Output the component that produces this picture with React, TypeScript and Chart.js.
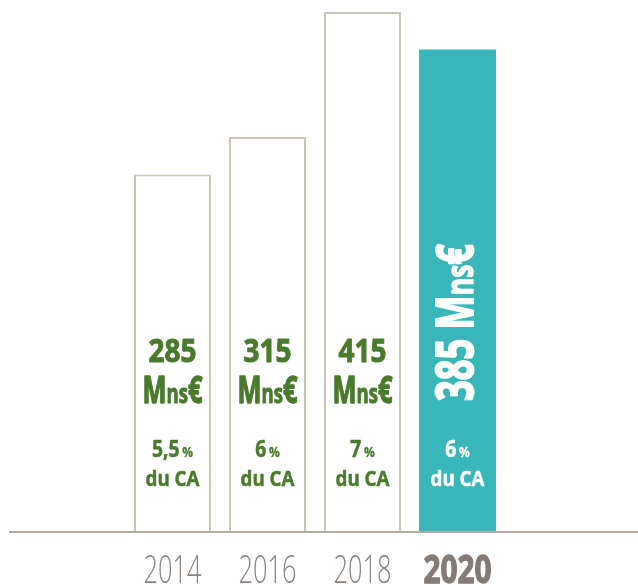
import React, { useEffect, useRef } from 'react';
import { Chart, registerables } from 'chart.js';

Chart.register(...registerables);

// ---- data ----
const years = ['2014', '2016', '2018', '2020'];
const amounts = [285, 315, 415, 385];
const shares = ['5,5', '6', '7', '6'];
const highlightIndex = 3;
const unitMain = 'M';
const unitSub = 'ns';
const unitEnd = '€';
const shareSuffix = '%';
const shareLabel = 'du CA';

// ---- styles ----
const FONT = '"Open Sans", "Liberation Sans", "DejaVu Sans", sans-serif';
const GREEN = '#4a7b2c';
const TEAL = '#39b6b9';
const BORDER = '#cbc5b6';
const AXIS = '#b1aba3';
const YEAR = '#8c837e';
const YEAR_BOLD = '#857b76';

type Seg = { text: string; size: number; weight: number };

function segWidth(ctx: CanvasRenderingContext2D, segs: Seg[]) {
  let w = 0;
  for (const s of segs) {
    ctx.font = `${s.weight} ${s.size}px ${FONT}`;
    w += ctx.measureText(s.text).width;
  }
  return w;
}

function drawSegs(
  ctx: CanvasRenderingContext2D,
  segs: Seg[],
  sx: number,
  color: string,
  align: 'center' | 'left',
  stroke = 0
) {
  const w = segWidth(ctx, segs);
  ctx.save();
  ctx.scale(sx, 1);
  ctx.fillStyle = color;
  ctx.strokeStyle = color;
  ctx.lineJoin = 'round';
  ctx.textAlign = 'left';
  ctx.textBaseline = 'alphabetic';
  let x = align === 'center' ? -w / 2 : 0;
  for (const s of segs) {
    ctx.font = `${s.weight} ${s.size}px ${FONT}`;
    ctx.fillText(s.text, x, 0);
    if (stroke > 0) {
      ctx.lineWidth = stroke * (s.size / 30);
      ctx.strokeText(s.text, x, 0);
    }
    x += ctx.measureText(s.text).width;
  }
  ctx.restore();
}

const valueSegs = (v: string): Seg[] => [{ text: v, size: 33, weight: 700 }];
const unitSegs = (k = 1): Seg[] => [
  { text: unitMain, size: 37 * k, weight: 700 },
  { text: unitSub, size: 27 * k, weight: 700 },
  { text: unitEnd, size: 37 * k, weight: 700 },
];
const shareSegs = (s: string): Seg[] => [
  { text: s, size: 22.5, weight: 700 },
  { text: ' ', size: 12, weight: 700 },
  { text: shareSuffix, size: 14, weight: 700 },
];
const labelSegs = (): Seg[] => [{ text: shareLabel, size: 21.5, weight: 700 }];
const yearSegs = (y: string, bold: boolean): Seg[] => [
  { text: y, size: 39, weight: bold ? 700 : 300 },
];

const labelsPlugin = {
  id: 'customLabels',
  afterDatasetsDraw(chart: any) {
    const ctx: CanvasRenderingContext2D = chart.ctx;
    const xs = chart.scales.x;
    const ys = chart.scales.y;
    const base = ys.getPixelForValue(0);

    // axis line
    ctx.save();
    ctx.fillStyle = AXIS;
    ctx.fillRect(9, base, chart.width - 9, 2);
    ctx.restore();

    // calibrate horizontal condensation
    const sxValue = 48 / segWidth(ctx, valueSegs('285'));
    const sxUnit = 60 / segWidth(ctx, unitSegs());
    const sxShare = 41 / segWidth(ctx, shareSegs('5,5'));
    const sxLabel = 54 / segWidth(ctx, labelSegs());
    const sxYear = 58 / segWidth(ctx, yearSegs('2014', false));
    const sxYearBold = 68 / segWidth(ctx, yearSegs('2020', true));

    years.forEach((yr, i) => {
      const cx = xs.getPixelForValue(i);
      const hi = i === highlightIndex;
      const color = hi ? '#ffffff' : GREEN;

      if (hi) {
        const rot: Seg[] = [
          { text: String(amounts[i]) + ' ', size: 52, weight: 700 },
          ...unitSegs(52 / 37),
        ];
        const sxRot = 157 / segWidth(ctx, rot);
        ctx.save();
        ctx.translate(cx + 15, base - 130);
        ctx.rotate(-Math.PI / 2);
        drawSegs(ctx, rot, sxRot, color, 'left', 1.1);
        ctx.restore();
      } else {
        ctx.save();
        ctx.translate(cx, base - 169.5);
        drawSegs(ctx, valueSegs(String(amounts[i])), sxValue, color, 'center', 0.9);
        ctx.restore();
        ctx.save();
        ctx.translate(cx, base - 128);
        drawSegs(ctx, unitSegs(), sxUnit, color, 'center', 1.1);
        ctx.restore();
      }

      ctx.save();
      ctx.translate(cx, base - 74);
      drawSegs(ctx, shareSegs(shares[i]), sxShare, color, 'center', 0.7);
      ctx.restore();
      ctx.save();
      ctx.translate(cx, base - 45.5);
      drawSegs(ctx, labelSegs(), sxLabel, color, 'center', 0.7);
      ctx.restore();

      ctx.save();
      ctx.translate(cx, base + 52);
      drawSegs(
        ctx,
        yearSegs(yr, hi),
        hi ? sxYearBold : sxYear,
        hi ? YEAR_BOLD : YEAR,
        'center',
        hi ? 1.0 : 0
      );
      ctx.restore();
    });
  },
};

export default function App() {
  const ref = useRef<HTMLCanvasElement | null>(null);

  useEffect(() => {
    if (!ref.current) return;
    const chart = new Chart(ref.current, {
      type: 'bar',
      data: {
        labels: years,
        datasets: [
          {
            data: amounts,
            backgroundColor: years.map((_, i) => (i === highlightIndex ? TEAL : '#ffffff')),
            borderColor: years.map((_, i) => (i === highlightIndex ? 'rgba(0,0,0,0)' : BORDER)),
            borderWidth: years.map((_, i) => (i === highlightIndex ? 0 : 2)),
            barPercentage: 0.81,
            categoryPercentage: 1,
          },
        ],
      },
      options: {
        responsive: false,
        devicePixelRatio: 1,
        animation: false,
        layout: { padding: { left: 125, right: 133, top: 12, bottom: 54 } },
        plugins: { legend: { display: false }, tooltip: { enabled: false } },
        scales: {
          x: { display: false },
          y: { display: false, min: 0, max: 415 },
        },
      },
      plugins: [labelsPlugin],
    });
    return () => chart.destroy();
  }, []);

  return (
    <div style={{ position: 'absolute', left: 0, top: 0, width: 638, height: 585, background: '#fff' }}>
      <canvas ref={ref} width={638} height={585} style={{ display: 'block' }} />
    </div>
  );
}
